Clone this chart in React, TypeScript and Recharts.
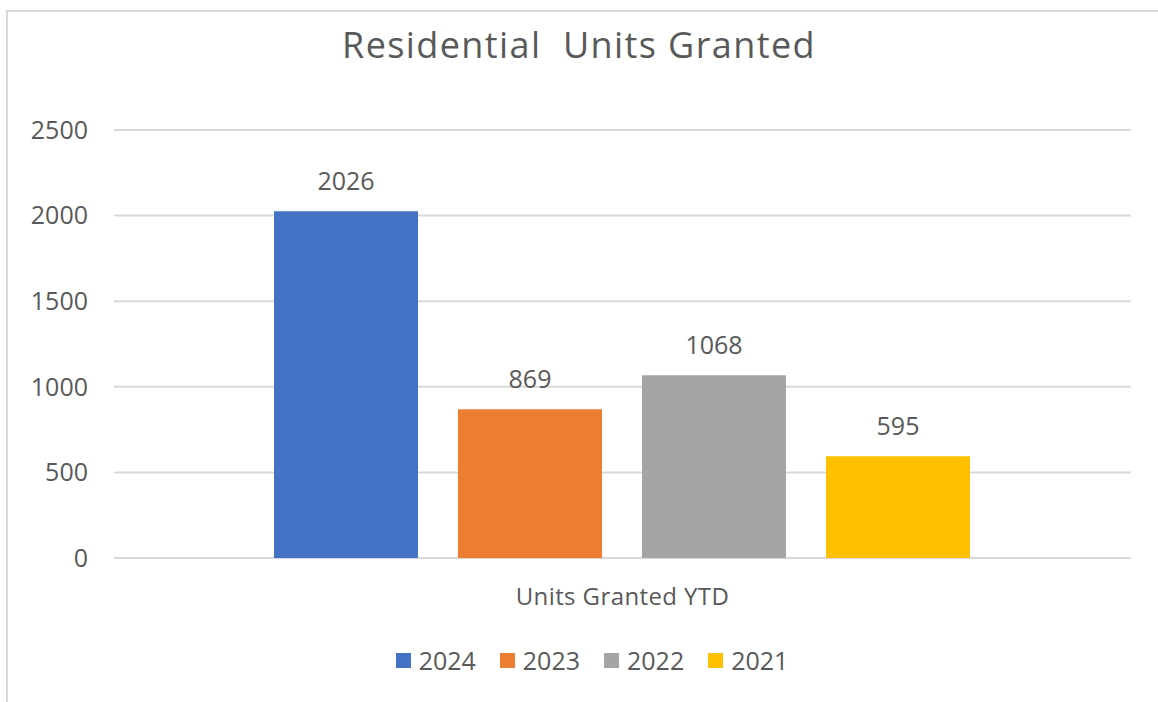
import { BarChart, Bar, XAxis, YAxis, CartesianGrid, Legend, LabelList } from 'recharts'

const categories = ['Units Granted YTD']
const years = ['2024', '2023', '2022', '2021']
const unitsGranted = [2026, 869, 1068, 595]
const yTicks = [0, 500, 1000, 1500, 2000, 2500]
const colors = ['#4472C4', '#ED7D31', '#A5A5A5', '#FFC000']

const FONT = '"Open Sans", sans-serif'
const TEXT = '#595959'

const data = categories.map((name) => {
  const row: Record<string, string | number> = { name }
  years.forEach((y, i) => {
    row[y] = unitsGranted[i]
  })
  return row
})

function LegendContent({ payload }: any) {
  // keep the series order (2024 first), the default sorter puts them by value
  const items = [...(payload || [])].sort(
    (a: any, b: any) => years.indexOf(String(a.value)) - years.indexOf(String(b.value))
  )
  return (
    <div style={{ display: 'flex', justifyContent: 'center', fontFamily: FONT }}>
      {items.map((p: any, i: number) => (
        <div
          key={p.value}
          style={{ display: 'flex', alignItems: 'center', marginRight: i < items.length - 1 ? 24 : 0 }}
        >
          <span style={{ width: 15, height: 15, background: p.color, marginRight: 8 }} />
          <span style={{ fontSize: 25, color: TEXT, lineHeight: '32px' }}>{p.value}</span>
        </div>
      ))}
    </div>
  )
}

export default function App() {
  return (
    <div style={{ position: 'absolute', left: 0, top: 0, width: 1158, height: 702, overflow: 'hidden', background: '#fff' }}>
      <div
        style={{
          position: 'absolute',
          left: 6,
          top: 10,
          width: 1300,
          height: 900,
          border: '2px solid #d9d9d9',
        }}
      />
      <div
        style={{
          position: 'absolute',
          left: 0,
          top: 21,
          width: 1158,
          textAlign: 'center',
          fontFamily: FONT,
          fontSize: 36,
          letterSpacing: 1.4,
          lineHeight: '48px',
          color: TEXT,
          whiteSpace: 'pre',
        }}
      >
        {'Residential  Units Granted'}
      </div>
      <div style={{ position: 'absolute', left: 0, top: 0 }}>
        <BarChart
          width={1158}
          height={702}
          data={data}
          margin={{ top: 130, right: 27, left: 0, bottom: 52 }}
          barCategoryGap={160}
          barGap={40}
        >
          <CartesianGrid vertical={false} stroke="#d9d9d9" strokeWidth={2} />
          <XAxis
            dataKey="name"
            axisLine={false}
            tickLine={false}
            height={60}
            tickMargin={24}
            tick={{ fill: TEXT, fontSize: 24, fontFamily: FONT, letterSpacing: 0.4 }}
          />
          <YAxis
            domain={[0, 2500]}
            ticks={yTicks}
            axisLine={false}
            tickLine={false}
            width={114}
            tickMargin={20}
            tick={{ fill: TEXT, fontSize: 25, fontFamily: FONT }}
          />
          <Legend
            verticalAlign="bottom"
            content={LegendContent}
            wrapperStyle={{ left: 0, width: 1184, top: 644, bottom: 'auto' }}
          />
          {years.map((y, i) => (
            <Bar key={y} dataKey={y} fill={colors[i]} isAnimationActive={false}>
              <LabelList
                dataKey={y}
                position="top"
                offset={21}
                fill={TEXT}
                fontSize={25}
                fontFamily={FONT}
              />
            </Bar>
          ))}
        </BarChart>
      </div>
    </div>
  )
}
